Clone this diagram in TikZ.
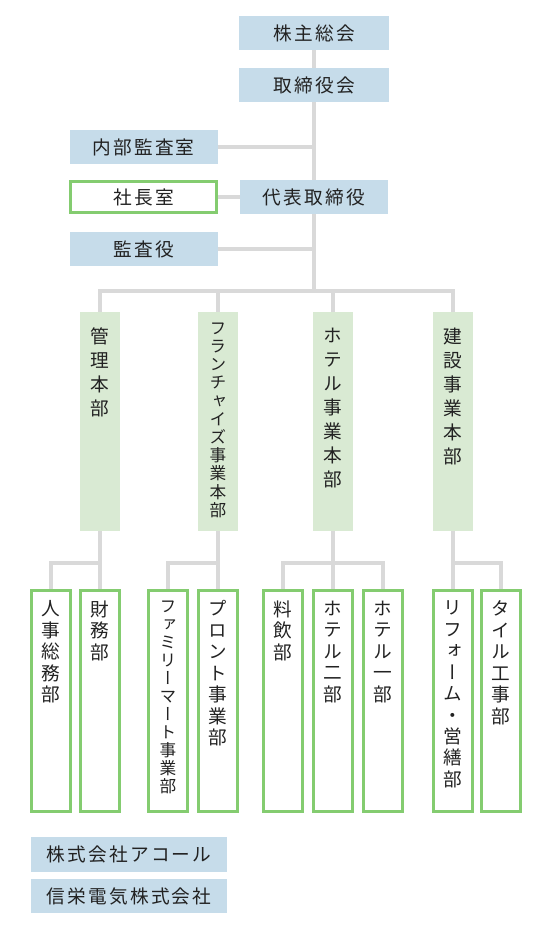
\documentclass[tikz,border=0pt]{standalone}
\usepackage{fontspec}
\usepackage{tikz}
\usetikzlibrary{positioning}

\newfontfamily\jp[LetterSpace=12]{Noto Sans CJK JP}
\newfontfamily\jpv[RawFeature=+vert]{Noto Sans CJK JP}

\definecolor{blueish}{HTML}{C6DCEA}
\definecolor{mint}{HTML}{D9EAD3}
\definecolor{leaf}{HTML}{84CC70}
\definecolor{wire}{HTML}{D9D9D9}
\definecolor{ink}{HTML}{222222}

\begin{document}
\begin{tikzpicture}
		[
			x=0.75pt, y=-0.75pt,
			office/.style={fill=blueish, draw=none, inner sep=0pt, minimum width=111pt, minimum height=25.5pt, text=ink, font=\jp\fontsize{14}{16}\selectfont},
			staff/.style={office, fill=white, draw=leaf, line width=2.25pt, minimum width=109.5pt, minimum height=23.25pt},
			division/.style={fill=mint, draw=none, inner sep=0pt, minimum width=30pt, minimum height=164.25pt},
			dept/.style={fill=white, draw=leaf, line width=2.25pt, inner sep=0pt, minimum width=29.25pt, minimum height=165.75pt},
			vlabel/.style={align=center, inner sep=0pt, text=ink, font=\jpv\fontsize{14}{18}\selectfont},
			dlabel/.style={vlabel, font=\jpv\fontsize{14}{16.1}\selectfont},
			link/.style={draw=wire, line width=3pt}
		]

		\useasboundingbox (0,0) rectangle (554,937);

		% top offices
		\node[office, minimum width=113pt] (agm)   at ( 314  ,  33 ) {株主総会};
		\node[office, minimum width=113pt] (board) at ( 314  ,  85 ) {取締役会};
		\node[office] (audit)     at ( 143.5, 147.5 ) {内部監査室};
		\node[staff]  (secretary) at ( 143.5, 197   ) {社長室};
		\node[office] (ceo)       at ( 314  , 197   ) {代表取締役};
		\node[office] (auditor)   at ( 143.5, 249   ) {監査役};
		\coordinate (bus) at ( 314, 291 );

		% top links
		\foreach \from/\to in {agm/board,board/ceo,secretary/ceo}
		\draw[link] (\from) -- (\to);
		\draw[link] (ceo) -- (bus);
		\foreach \o in {audit,auditor}
		\draw[link] (\o) -- (\o -| board);

		% divisions
		\node[division] (kanri)     at ( 100, 421.5 ) {};
		\node[division] (franchise) at ( 218, 421.5 ) {};
		\node[division] (hotel)     at ( 333, 421.5 ) {};
		\node[division] (kensetsu)  at ( 453, 421.5 ) {};

		% division labels
		\node[vlabel, below=12pt of kanri.north] (kanri-t) {管\\理\\本\\部};
		\node[vlabel, below=8pt of franchise.north, font=\jpv\fontsize{12.5}{13.65}\selectfont] (franchise-t) {フ\\ラ\\ン\\チ\\ャ\\イ\\ズ\\事\\業\\本\\部};
		\node[vlabel, below=12pt of hotel.north] (hotel-t) {ホ\\テ\\ル\\事\\業\\本\\部};
		\node[vlabel, below=12pt of kensetsu.north] (kensetsu-t) {建\\設\\事\\業\\本\\部};

		% division links
		\foreach \d in {kanri,franchise,hotel,kensetsu}
		\draw[link] (\d.north) |- (bus);

		% departments
		\node[dept] (jinji)  at (  51  , 701 ) {};
		\node[dept] (zaimu)  at ( 100  , 701 ) {};
		\node[dept] (famima) at ( 168  , 701 ) {};
		\node[dept] (pronto) at ( 218  , 701 ) {};
		\node[dept] (ryoin)  at ( 282.5, 701 ) {};
		\node[dept] (hotel2) at ( 333  , 701 ) {};
		\node[dept] (hotel1) at ( 382.5, 701 ) {};
		\node[dept] (reform) at ( 453  , 701 ) {};
		\node[dept] (tile)   at ( 501  , 701 ) {};

		% department labels
		\node[dlabel, below=8.6pt of jinji.north]  (jinji-t)  {人\\事\\総\\務\\部};
		\node[dlabel, below=8.6pt of zaimu.north]  (zaimu-t)  {財\\務\\部};
		\node[dlabel, below=8.6pt of famima.north, font=\jpv\fontsize{12.5}{13.5}\selectfont] (famima-t) {フ\\ァ\\ミ\\リ\\ー\\マ\\ー\\ト\\事\\業\\部};
		\node[dlabel, below=8.6pt of pronto.north] (pronto-t) {プ\\ロ\\ン\\ト\\事\\業\\部};
		\node[dlabel, below=8.6pt of ryoin.north]  (ryoin-t)  {料\\飲\\部};
		\node[dlabel, below=8.6pt of hotel2.north] (hotel2-t) {ホ\\テ\\ル\\二\\部};
		\node[dlabel, below=8.6pt of hotel1.north] (hotel1-t) {ホ\\テ\\ル\\一\\部};
		\node[dlabel, below=8.6pt of reform.north] (reform-t) {リ\\フ\\ォ\\ー\\ム\\・\\営\\繕\\部};
		\node[dlabel, below=8.6pt of tile.north]   (tile-t)   {タ\\イ\\ル\\工\\事\\部};

		% department links
		\foreach \from/\to in {kanri/jinji,kanri/zaimu,franchise/famima,franchise/pronto,hotel/ryoin,hotel/hotel2,hotel/hotel1,kensetsu/reform,kensetsu/tile}
		\draw[link] (\from.south) -- ++(0,32) -| (\to.north);

		% group companies
		\node[office, minimum width=147pt, minimum height=26pt] (acorl)  at ( 129, 854.5 ) {株式会社アコール};
		\node[office, minimum width=147pt] (shinei) at ( 129, 896 ) {信栄電気株式会社};

	\end{tikzpicture}
\end{document}
